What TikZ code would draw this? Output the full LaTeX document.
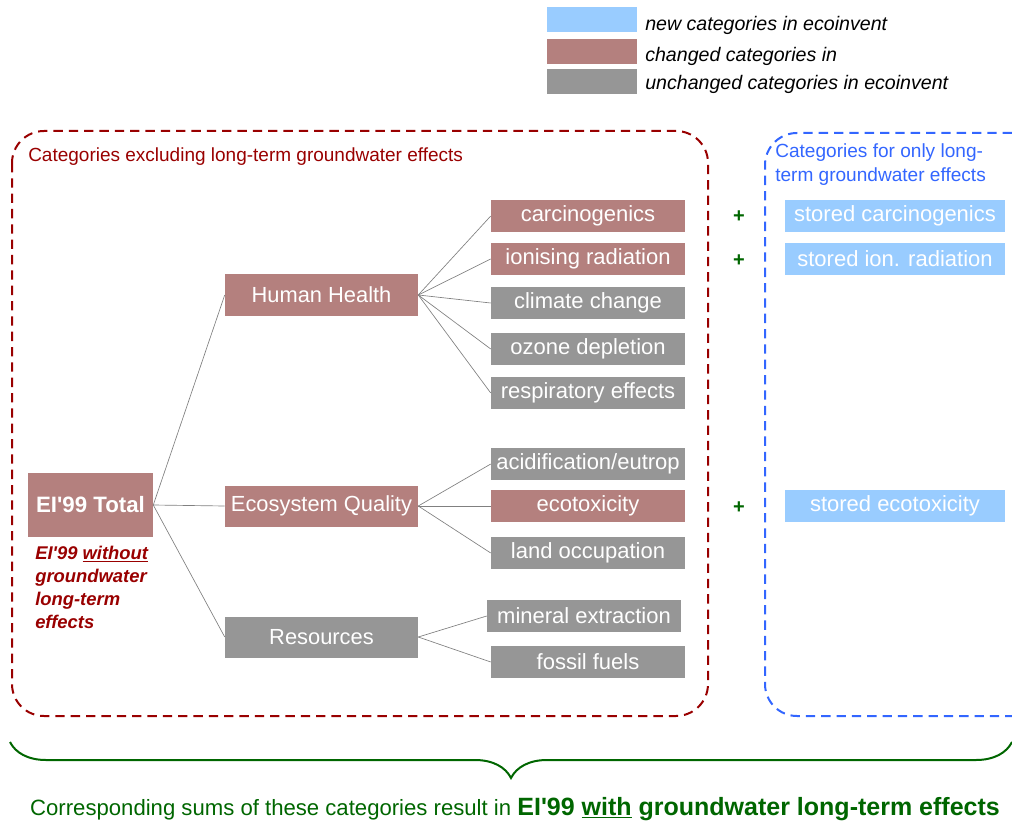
\documentclass[tikz,border=0pt]{standalone}
\usepackage{fontspec}
\setmainfont{Liberation Sans}
\usetikzlibrary{decorations.pathreplacing}
\definecolor{rosso}{RGB}{180,128,126}
\definecolor{grigio}{RGB}{150,150,150}
\definecolor{azzurro}{RGB}{153,204,255}
\definecolor{bordeaux}{RGB}{153,0,0}
\definecolor{blu}{RGB}{51,102,255}
\definecolor{verde}{RGB}{0,102,0}
\newcommand{\apos}{\textquotesingle}
\begin{document}
\begin{tikzpicture}[x=0.75pt,y=-0.75pt,
    catbox/.style={inner sep=0pt, minimum width=145.5pt, minimum height=24pt, text=white, font=\fontsize{16.5}{19}\selectfont},
    midbox/.style={inner sep=0pt, minimum width=144.75pt, minimum height=30.75pt, text=white, font=\fontsize{16.4}{19}\selectfont},
    legbox/.style={inner sep=0pt, minimum width=67.5pt, minimum height=18.75pt},
    legtext/.style={anchor=west, inner sep=0pt, font=\fontsize{14.7}{17}\selectfont\itshape},
    linea/.style={draw=grigio!85!black, line width=0.5pt},
    piu/.style={text=verde, font=\fontsize{15}{17}\selectfont\bfseries}]
\useasboundingbox (0,0) rectangle (1012,823);

%legenda
\node[legbox, fill=azzurro] (leg1) at (592,20) {};
\node[legbox, fill=rosso] (leg2) at (592,52) {};
\node[legbox, fill=grigio] (leg3) at (592,82) {};
\node[legtext] (legt1) at (645,25) {new categories in ecoinvent};
\node[legtext] (legt2) at (645,56) {changed categories in};
\node[legtext] (legt3) at (645,84) {unchanged categories in ecoinvent};

%riquadro rosso tratteggiato
\draw[bordeaux, line width=1.5pt, dash pattern=on 7pt off 4.5pt, rounded corners=24pt] (12,131) rectangle (708,716);
\node[anchor=west, inner sep=0pt, text=bordeaux, font=\fontsize{14.25}{17}\selectfont] (tit1) at (28,157) {Categories excluding long-term groundwater effects};

%riquadro blu tratteggiato
\draw[blu, line width=1.5pt, dash pattern=on 7pt off 4.5pt, rounded corners=24pt] (1012,133) -| (765,716) -- (1012,716);
\node[anchor=north west, inner sep=0pt, align=left, text=blu, font=\fontsize{14.3}{18}\selectfont] (tit2) at (775,143) {Categories for only long-\\term groundwater effects};

%totale
\node[inner sep=0pt, minimum width=93.75pt, minimum height=48pt, fill=rosso, text=white, font=\fontsize{16.7}{19}\selectfont\bfseries] (tot) at (90.5,505) {EI\apos 99 Total};
\node[anchor=north west, inner sep=0pt, align=left, text=bordeaux, font=\fontsize{13.8}{17.25}\selectfont\bfseries\itshape] (senza) at (35,546) {EI\apos 99 \underline{without}\\groundwater\\long-term\\effects};

%categorie intermedie
\node[midbox, fill=rosso] (hh) at (321.5,295) {Human Health};
\node[midbox, fill=rosso] (eq) at (321.5,506) {Ecosystem Quality};
\node[midbox, fill=grigio] (res) at (321.5,637) {Resources};

%categorie finali
\node[catbox, fill=rosso] (carc) at (588,216) {carcinogenics};
\node[catbox, fill=rosso] (ion) at (588,259) {ionising radiation};
\node[catbox, fill=grigio] (clim) at (588,303) {climate change};
\node[catbox, fill=grigio] (ozon) at (588,349) {ozone depletion};
\node[catbox, fill=grigio] (resp) at (588,393) {respiratory effects};
\node[catbox, fill=grigio] (acid) at (588,464) {acidification/eutrop};
\node[catbox, fill=rosso] (ecot) at (588,506) {ecotoxicity};
\node[catbox, fill=grigio] (land) at (588,553) {land occupation};
\node[catbox, fill=grigio] (mine) at (584,616) {mineral extraction};
\node[catbox, fill=grigio] (foss) at (588,662) {fossil fuels};

%categorie nuove
\node[catbox, minimum width=165pt, fill=azzurro] (scarc) at (895,216) {stored carcinogenics};
\node[catbox, minimum width=165pt, fill=azzurro] (sion) at (895,259) {stored ion. radiation};
\node[catbox, minimum width=165pt, fill=azzurro] (secot) at (895,506) {stored ecotoxicity};
\node[piu] (p1) at (739,217) {+};
\node[piu] (p2) at (739,261) {+};
\node[piu] (p3) at (739,508) {+};

%collegamenti
\foreach \m in {hh,eq,res}
  \draw[linea] (tot.east) -- (\m.west);
\foreach \f in {carc,ion,clim,ozon,resp}
  \draw[linea] (hh.east) -- (\f.west);
\foreach \f in {acid,ecot,land}
  \draw[linea] (eq.east) -- (\f.west);
\foreach \f in {mine,foss}
  \draw[linea] (res.east) -- (\f.west);

%parentesi graffa
\coordinate (gs) at (10,742);
\coordinate (gd) at (1012,742);
\draw[verde, line width=1.5pt, decorate, decoration={brace, mirror, amplitude=27pt}] (gs) -- (gd);
\node[text=verde, inner sep=0pt, font=\fontsize{16.6}{19}\selectfont] (somma) at (515,809) {Corresponding sums of these categories result in {\fontsize{18.75}{21}\selectfont\bfseries EI\apos 99 \underline{with} groundwater long-term effects}};
\end{tikzpicture}
\end{document}
